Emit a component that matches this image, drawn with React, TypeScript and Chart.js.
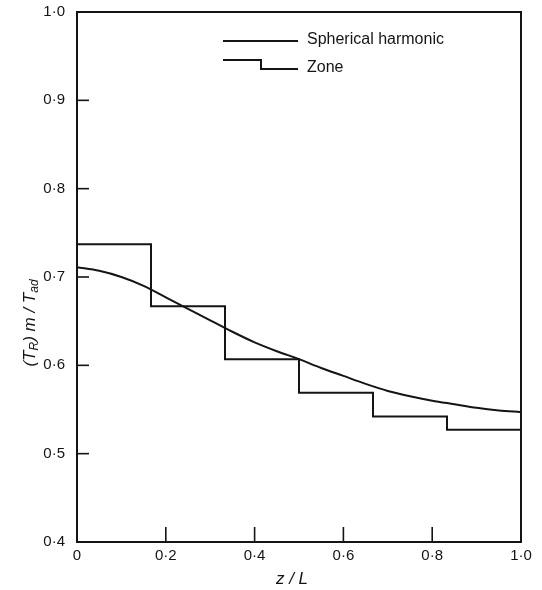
import React, { useEffect, useRef } from "react";
import { Chart, registerables } from "chart.js";

Chart.register(...registerables);

const harmonicX = [0, 0.05, 0.1, 0.15, 0.2, 0.25, 0.3, 0.35, 0.4, 0.45, 0.5, 0.55, 0.6, 0.65, 0.7, 0.75, 0.8, 0.85, 0.9, 0.95, 1.0];
const harmonicY = [0.711, 0.707, 0.700, 0.690, 0.677, 0.664, 0.651, 0.638, 0.626, 0.616, 0.607, 0.597, 0.588, 0.579, 0.571, 0.565, 0.560, 0.556, 0.552, 0.549, 0.547];

const zoneX = [0, 1 / 6, 2 / 6, 3 / 6, 4 / 6, 5 / 6, 1.0];
const zoneY = [0.737, 0.667, 0.607, 0.569, 0.542, 0.527, 0.527];

const xTicks = [0, 0.2, 0.4, 0.6, 0.8, 1.0];
const yTicks = [0.4, 0.5, 0.6, 0.7, 0.8, 0.9, 1.0];

const seriesLabels = ["Spherical harmonic", "Zone"];

const INK = "#141414";
const FONT = "'Liberation Sans', Arial, sans-serif";

function fmt(v: number): string {
  if (Math.abs(v) < 1e-9) return "0";
  return v.toFixed(1).replace(".", "\u00b7");
}

const framePlugin = {
  id: "frame",
  afterDatasetsDraw(chart: any) {
    const { ctx, chartArea: a, scales } = chart;
    ctx.save();
    ctx.strokeStyle = INK;
    ctx.lineWidth = 2;
    ctx.strokeRect(a.left, a.top, a.right - a.left, a.bottom - a.top);
    ctx.lineWidth = 1.6;
    // inward ticks
    yTicks.forEach((v) => {
      if (v <= 0.4 || v >= 1.0) return;
      const y = scales.y.getPixelForValue(v);
      ctx.beginPath();
      ctx.moveTo(a.left, y);
      ctx.lineTo(a.left + 12, y);
      ctx.stroke();
    });
    xTicks.forEach((v) => {
      if (v <= 0 || v >= 1.0) return;
      const x = scales.x.getPixelForValue(v);
      ctx.beginPath();
      ctx.moveTo(x, a.bottom);
      ctx.lineTo(x, a.bottom - 15);
      ctx.stroke();
    });

    // legend
    const lx0 = a.left + 146;
    const lx1 = a.left + 221;
    const ly1 = a.top + 29;
    const ly2a = a.top + 48;
    const ly2b = a.top + 57;
    ctx.lineWidth = 2;
    ctx.beginPath();
    ctx.moveTo(lx0, ly1);
    ctx.lineTo(lx1, ly1);
    ctx.stroke();
    const mid = lx0 + 38;
    ctx.beginPath();
    ctx.moveTo(lx0, ly2a);
    ctx.lineTo(mid, ly2a);
    ctx.lineTo(mid, ly2b);
    ctx.lineTo(lx1, ly2b);
    ctx.stroke();
    ctx.fillStyle = INK;
    ctx.font = `16px ${FONT}`;
    ctx.textBaseline = "middle";
    ctx.textAlign = "left";
    ctx.fillText(seriesLabels[0], lx1 + 9, ly1 - 1);
    ctx.fillText(seriesLabels[1], lx1 + 9, ly2b - 1);

    // axis titles
    ctx.font = `italic 17px ${FONT}`;
    ctx.textAlign = "center";
    ctx.fillText("z / L", (a.left + a.right) / 2 - 7, a.bottom + 37);

    ctx.save();
    ctx.translate(30, (a.top + a.bottom) / 2 + 46);
    ctx.rotate(-Math.PI / 2);
    const big = `italic 17px ${FONT}`;
    const small = `italic 12px ${FONT}`;
    const parts: [string, string, number][] = [
      ["(T", big, 0],
      ["R", small, 5],
      [") m / T", big, 0],
      ["ad", small, 5],
    ];
    let total = 0;
    parts.forEach(([t, f]) => {
      ctx.font = f;
      total += ctx.measureText(t).width;
    });
    let cx = -total / 2;
    ctx.textAlign = "left";
    parts.forEach(([t, f, dy]) => {
      ctx.font = f;
      ctx.fillText(t, cx, dy);
      cx += ctx.measureText(t).width;
    });
    ctx.restore();
    ctx.restore();
  },
};

export default function App() {
  const ref = useRef<HTMLCanvasElement | null>(null);
  useEffect(() => {
    if (!ref.current) return;
    const chart = new Chart(ref.current, {
      type: "line",
      data: {
        datasets: [
          {
            label: seriesLabels[0],
            data: harmonicX.map((x, i) => ({ x, y: harmonicY[i] })),
            borderColor: INK,
            borderWidth: 2,
            pointRadius: 0,
            tension: 0.4,
            cubicInterpolationMode: "monotone",
            fill: false,
          },
          {
            label: seriesLabels[1],
            data: zoneX.map((x, i) => ({ x, y: zoneY[i] })),
            borderColor: INK,
            borderWidth: 2,
            pointRadius: 0,
            stepped: "before",
            fill: false,
          },
        ],
      },
      options: {
        animation: false,
        responsive: false,
        maintainAspectRatio: false,
        layout: { padding: { left: 0, right: 21, top: 12, bottom: 0 } },
        plugins: { legend: { display: false }, tooltip: { enabled: false } },
        scales: {
          x: {
            type: "linear",
            min: 0,
            max: 1,
            afterFit: (s: any) => {
              s.height = 48;
              s.paddingLeft = 0;
              s.paddingRight = 0;
            },
            afterBuildTicks: (s: any) => {
              s.ticks = xTicks.map((v) => ({ value: v }));
            },
            grid: { display: false, drawTicks: false },
            border: { display: false },
            ticks: {
              padding: 5,
              color: INK,
              font: { family: FONT, size: 15 },
              callback: (v: any) => fmt(Number(v)),
              maxRotation: 0,
            },
          },
          y: {
            type: "linear",
            min: 0.4,
            max: 1.0,
            afterFit: (s: any) => {
              s.width = 77;
              s.paddingTop = 0;
              s.paddingBottom = 0;
            },
            afterBuildTicks: (s: any) => {
              s.ticks = yTicks.map((v) => ({ value: v }));
            },
            grid: { display: false, drawTicks: false },
            border: { display: false },
            ticks: {
              padding: 12,
              color: INK,
              font: { family: FONT, size: 15 },
              callback: (v: any) => fmt(Number(v)),
            },
          },
        },
      },
      plugins: [framePlugin],
    } as any);
    return () => chart.destroy();
  }, []);
  return (
    <div style={{ position: "fixed", left: 0, top: 0, width: 542, height: 590, background: "#fff" }}>
      <canvas ref={ref} width={542} height={590} style={{ width: 542, height: 590, display: "block" }} />
    </div>
  );
}
